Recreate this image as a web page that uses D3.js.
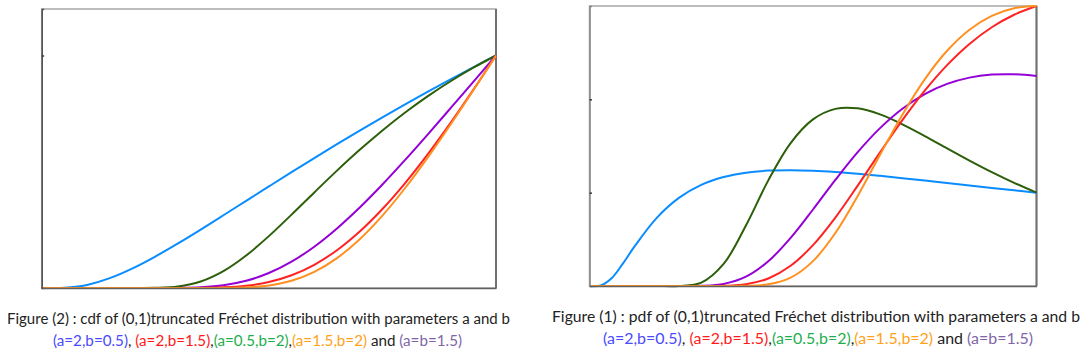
<!DOCTYPE html>
<html>
<head>
<meta charset="utf-8">
<script src="https://cdn.jsdelivr.net/npm/d3@7"></script>
<style>
  html, body { margin: 0; padding: 0; background: #fff; }
  svg { display: block; }
</style>
</head>
<body>
<svg id="chart" width="1089" height="359"></svg>
<script>
// x positions (0..1 on the truncated support)
const xValues = [0, 0.025, 0.05, 0.075, 0.1, 0.15, 0.2, 0.25, 0.3, 0.35, 0.4, 0.45, 0.5, 0.55, 0.6, 0.65, 0.7, 0.75, 0.8, 0.85, 0.9, 0.95, 1];

// series labels / parameters
const seriesNames = ["a=2,b=0.5", "a=0.5,b=2", "a=b=1.5", "a=2,b=1.5", "a=1.5,b=2"];
const seriesColors = ["#0a8cff", "#2c5f0a", "#9400d6", "#ff2222", "#ff9020"];

// cdf values (Figure 2)
const cdfBlue   = [0, 0.00002, 0.00096, 0.00498, 0.0132, 0.0423, 0.0844, 0.1353, 0.1918, 0.2514, 0.3128, 0.3748, 0.4367, 0.4982, 0.5588, 0.6184, 0.6768, 0.7339, 0.7897, 0.8443, 0.8975, 0.9494, 1];
const cdfGreen  = [0, 0, 0, 0, 0, 0, 0.000006, 0.00055, 0.0064, 0.0278, 0.0724, 0.1396, 0.2231, 0.3157, 0.4111, 0.5049, 0.5943, 0.6778, 0.7548, 0.8253, 0.8893, 0.9474, 1];
const cdfPurple = [0, 0, 0, 0, 0, 0, 0, 0.00003, 0.00049, 0.0032, 0.0119, 0.0311, 0.0644, 0.1133, 0.1777, 0.2561, 0.3460, 0.4451, 0.5508, 0.6609, 0.7735, 0.8869, 1];
const cdfRed    = [0, 0, 0, 0, 0, 0, 0, 0.000001, 0.00004, 0.00047, 0.0027, 0.0098, 0.0258, 0.0548, 0.0999, 0.1626, 0.2429, 0.3399, 0.4515, 0.5757, 0.7100, 0.8522, 1];
const cdfOrange = [0, 0, 0, 0, 0, 0, 0, 0, 0, 0.00002, 0.00038, 0.0027, 0.0111, 0.0315, 0.0695, 0.1287, 0.2099, 0.3114, 0.4301, 0.5621, 0.7034, 0.8504, 1];

// pdf values (Figure 1)
const pdfBlue   = [0, 0.006, 0.0862, 0.2423, 0.4187, 0.7274, 0.9437, 1.0827, 1.1671, 1.2143, 1.2363, 1.2415, 1.2353, 1.2214, 1.2023, 1.1800, 1.1555, 1.1299, 1.1037, 1.0773, 1.0511, 1.0253, 1];
const pdfGreen  = [0, 0, 0, 0, 0, 0, 0.0008, 0.0354, 0.2361, 0.6491, 1.1319, 1.5317, 1.7850, 1.8977, 1.9033, 1.8384, 1.7326, 1.6067, 1.4743, 1.3438, 1.2199, 1.1050, 1];
const pdfPurple = [0, 0, 0, 0, 0, 0, 0, 0.0020, 0.0222, 0.0994, 0.2651, 0.5159, 0.8197, 1.1366, 1.4340, 1.6914, 1.8991, 2.0559, 2.1651, 2.2325, 2.2648, 2.2686, 2.25];
const pdfRed    = [0, 0, 0, 0, 0, 0, 0, 0.0001, 0.0023, 0.0195, 0.0808, 0.2164, 0.4381, 0.7334, 1.0751, 1.4321, 1.7778, 2.0930, 2.3664, 2.5930, 2.7721, 2.9063, 3];
const pdfOrange = [0, 0, 0, 0, 0, 0, 0, 0, 0, 0.0015, 0.0178, 0.0895, 0.2666, 0.5675, 0.9650, 1.4059, 1.8357, 2.2144, 2.5201, 2.7457, 2.8946, 2.9756, 3];

// axis ticks (unlabelled)
const cdfTicks = [1];
const pdfTicks = [1, 2];

// caption texts
const captionCdf = "Figure (2) : cdf of (0,1)truncated Fréchet distribution with parameters a and b";
const captionPdf = "Figure (1) : pdf of (0,1)truncated Fréchet distribution with parameters a and b";
const legendParts = [
  {t: "(a=2,b=0.5)", c: "#4a4aff"}, {t: ", ", c: "#222"},
  {t: "(a=2,b=1.5)", c: "#ff1a1a"}, {t: ",", c: "#222"},
  {t: "(a=0.5,b=2)", c: "#1fae4e"}, {t: ",", c: "#222"},
  {t: "(a=1.5,b=2)", c: "#ffa21a"}, {t: " and ", c: "#222"},
  {t: "(a=b=1.5)", c: "#8066a8"}
];

const svg = d3.select("#chart");
svg.append("rect").attr("width", 1089).attr("height", 359).attr("fill", "#fff");

function panel(cfg) {
  const x = d3.scaleLinear().domain([0, 1]).range([cfg.x0, cfg.x1]);
  const y = d3.scaleLinear().domain([0, cfg.ymax]).range([cfg.y1, cfg.y0]);
  const g = svg.append("g");

  // frame
  g.append("rect")
    .attr("x", cfg.x0).attr("y", cfg.y0)
    .attr("width", cfg.x1 - cfg.x0).attr("height", cfg.y1 - cfg.y0)
    .attr("fill", "none").attr("stroke", "#a8a8a8").attr("stroke-width", 1.5);
  // right edge (darker)
  g.append("line")
    .attr("x1", cfg.x1).attr("x2", cfg.x1).attr("y1", cfg.y0).attr("y2", cfg.y1)
    .attr("stroke", "#707070").attr("stroke-width", 2);

  const lineGen = d3.line()
    .x((d, i) => x(xValues[i]))
    .y(d => y(d))
    .curve(d3.curveCatmullRom.alpha(0.5));

  cfg.series.forEach((vals, k) => {
    g.append("path")
      .datum(vals)
      .attr("d", lineGen)
      .attr("fill", "none")
      .attr("stroke", cfg.colors[k])
      .attr("stroke-width", 2)
      .attr("stroke-linejoin", "round");
  });

  // axes
  const ya = g.append("g").attr("transform", `translate(${cfg.x0},0)`)
    .call(d3.axisLeft(y).tickValues(cfg.ticks).tickSize(-2.5).tickFormat(""));
  ya.select(".domain").attr("stroke", cfg.leftColor).attr("stroke-width", 1.6);
  ya.selectAll(".tick line").attr("stroke", "#444").attr("stroke-width", 1.6);
  const xa = g.append("g").attr("transform", `translate(0,${cfg.y1})`)
    .call(d3.axisBottom(x).tickValues([]).tickSizeOuter(0));
  xa.select(".domain").attr("stroke", "#606060").attr("stroke-width", 1.6);

  // caption
  svg.append("text")
    .attr("x", cfg.capX).attr("y", cfg.capY1)
    .attr("text-anchor", "middle")
    .attr("font-family", "Lato, 'Open Sans', sans-serif")
    .attr("font-size", 14.5)
    .attr("fill", "#222")
    .attr("textLength", cfg.capW1)
    .attr("lengthAdjust", "spacingAndGlyphs")
    .text(cfg.caption);
  const cap2 = svg.append("text")
    .attr("x", cfg.capX2).attr("y", cfg.capY2)
    .attr("text-anchor", "middle")
    .attr("font-family", "Lato, 'Open Sans', sans-serif")
    .attr("font-size", 14.5)
    .attr("textLength", cfg.capW2)
    .attr("lengthAdjust", "spacingAndGlyphs");
  cap2.selectAll("tspan").data(legendParts).join("tspan")
    .attr("fill", d => d.c)
    .attr("xml:space", "preserve")
    .text(d => d.t);
}

panel({
  x0: 41.7, x1: 496, y0: 9, y1: 288, ymax: 1.2,
  series: [cdfBlue, cdfGreen, cdfPurple, cdfRed, cdfOrange],
  colors: seriesColors, ticks: cdfTicks, leftColor: "#555",
  caption: captionCdf, capX: 258.5, capY1: 323.5, capW1: 503,
  capX2: 257.5, capY2: 346, capW2: 409
});

panel({
  x0: 589.5, x1: 1036.5, y0: 6, y1: 286, ymax: 3,
  series: [pdfBlue, pdfGreen, pdfPurple, pdfRed, pdfOrange],
  colors: seriesColors, ticks: pdfTicks, leftColor: "#8a8a8a",
  caption: captionPdf, capX: 816, capY1: 322, capW1: 528,
  capX2: 818, capY2: 344, capW2: 430
});
</script>
</body>
</html>
